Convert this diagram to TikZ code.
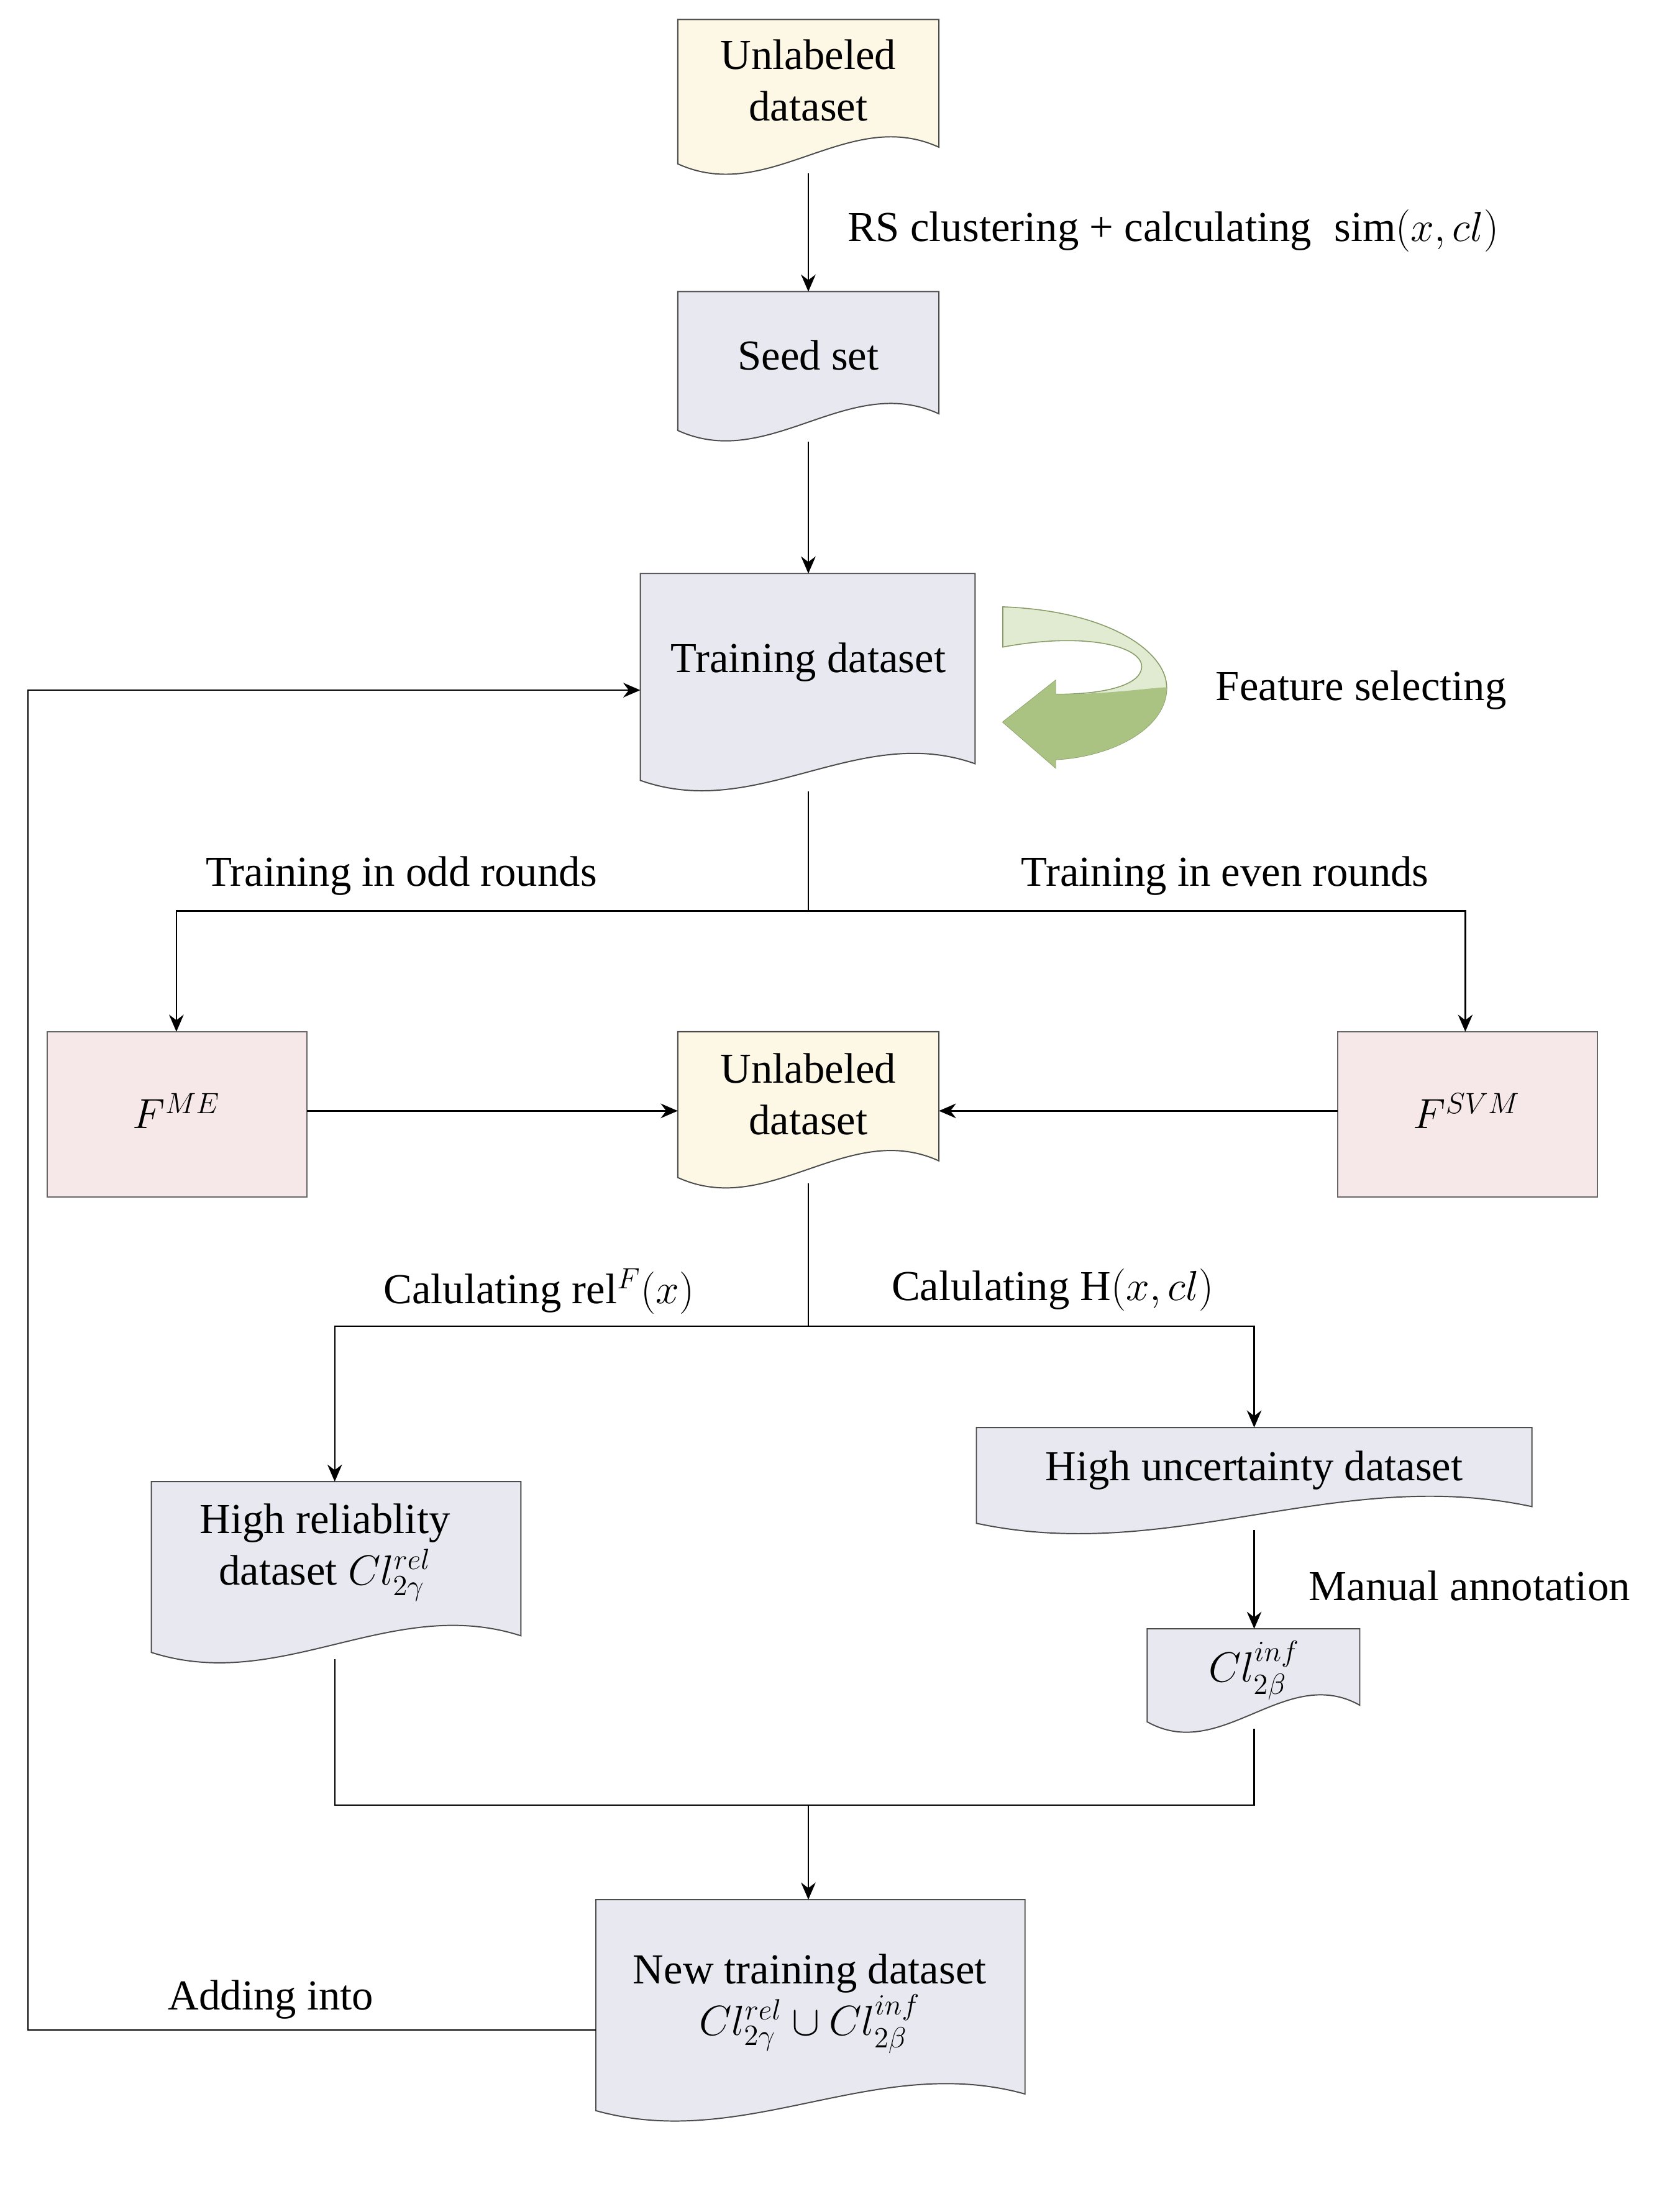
\documentclass[tikz,border=0pt]{standalone}
\usepackage{fontspec}
\setmainfont{Liberation Serif}
\usepackage{amsmath}
\usetikzlibrary{arrows.meta}
\definecolor{docyellow}{RGB}{253,248,230}
\definecolor{docgray}{RGB}{232,232,240}
\definecolor{boxpink}{RGB}{246,232,232}
\definecolor{leafgreen}{RGB}{170,195,130}
\definecolor{leaflight}{RGB}{225,235,210}
% wavy document: fill, x1, ytop, x2, ybottom
\newcommand{\docpath}[5]{\draw[fill=#1,draw=black!70,line width=0.5pt] (#2,#5) -- (#2,#3) -- (#4,#3) -- (#4,#5-12)
  .. controls (#2*0.35+#4*0.65,#5-42) and (#2*0.65+#4*0.35,#5+30) .. (#2,#5) -- cycle;}
\tikzset{lbl/.style={font=\fontsize{17.5}{21}\selectfont,align=center},
  arr/.style={-{Stealth[length=7pt,width=6pt]},line width=0.6pt},
  ln/.style={line width=0.6pt}}
\begin{document}
\begin{tikzpicture}[x=0.02cm,y=-0.02cm]
\useasboundingbox (0,0) rectangle (1200,1593);
% shapes
\docpath{docyellow}{488}{14}{676}{118}
\docpath{docgray}{488}{210}{676}{310}
\docpath{docgray}{461}{413}{702}{562}
\docpath{docyellow}{488}{743}{676}{848}
\docpath{docgray}{109}{1067}{375}{1190}
\docpath{docgray}{703}{1028}{1103}{1097}
\docpath{docgray}{826}{1173}{979}{1240}
\docpath{docgray}{429}{1368}{738}{1520}
\draw[fill=boxpink,draw=black!60] (34,743) rectangle (221,862);
\draw[fill=boxpink,draw=black!60] (963,743) rectangle (1150,862);
% text nodes
\node[lbl] (top) at (582,58) {Unlabeled\\dataset};
\node[lbl] (seed) at (582,256) {Seed set};
\node[lbl] (train) at (582,477) {Training dataset};
\node[lbl] (fme) at (127,800) {$F^{ME}$};
\node[lbl] (mid) at (582,788) {Unlabeled\\dataset};
\node[lbl] (fsvm) at (1056,800) {$F^{SVM}$};
\node[lbl] (rel) at (234,1118) {High reliablity\\dataset $Cl^{rel}_{2\gamma}$};
\node[lbl] (unc) at (903,1059) {High uncertainty dataset};
\node[lbl] (inf) at (903,1203) {$Cl^{inf}_{2\beta}$};
\node[lbl] (new) at (583,1443) {New training dataset\\$Cl^{rel}_{2\gamma}\cup Cl^{inf}_{2\beta}$};
% connector coordinates
\coordinate (topB) at (582,125); \coordinate (seedT) at (582,210);
\coordinate (seedB) at (582,318); \coordinate (trainT) at (582,413);
\coordinate (trainB) at (582,570); \coordinate (split) at (582,656);
\coordinate (fmeT) at (127,743); \coordinate (fsvmT) at (1055,743);
\coordinate (fmeR) at (221,800); \coordinate (midL) at (488,800);
\coordinate (fsvmL) at (963,800); \coordinate (midR) at (676,800);
\coordinate (midB) at (582,852); \coordinate (split2) at (582,955);
\coordinate (relT) at (241,1067); \coordinate (uncT) at (903,1028);
\coordinate (uncB) at (903,1102); \coordinate (infT) at (903,1173);
\coordinate (relB) at (241,1195); \coordinate (infB) at (903,1245);
\coordinate (join) at (582,1300); \coordinate (newT) at (582,1368);
\coordinate (newL) at (429,1462); \coordinate (trainL) at (461,497);
% connectors
\draw[arr] (topB) -- (seedT);
\draw[arr] (seedB) -- (trainT);
\draw[ln] (trainB) -- (split);
\draw[arr] (split) -| (fmeT);
\draw[arr] (split) -| (fsvmT);
\draw[arr] (fmeR) -- (midL);
\draw[arr] (fsvmL) -- (midR);
\draw[ln] (midB) -- (split2);
\draw[arr] (split2) -| (relT);
\draw[arr] (split2) -| (uncT);
\draw[arr] (uncB) -- (infT);
\draw[ln] (relB) |- (join) -| (infB);
\draw[arr] (join) -- (newT);
\draw[arr] (newL) -- (20,1462) |- (trainL);
% feature selecting arrow
\fill[leaflight,draw=leafgreen!80!black,line width=0.4pt] (722,437) .. controls (800,440) and (840,470) .. (840,495)
  .. controls (840,525) and (800,545) .. (760,547) -- (760,553) -- (722,520) -- (760,490) -- (760,500)
  .. controls (800,500) and (822,492) .. (822,480) .. controls (822,465) and (780,455) .. (722,466) -- cycle;
\fill[leafgreen] (840,495) .. controls (840,525) and (800,545) .. (760,547) -- (760,553) -- (722,520) -- (760,490) -- (760,500)
  .. controls (800,500) and (830,495) .. (840,495);
% labels
\node[lbl,anchor=west] (rs) at (604,166) {RS clustering + calculating \;$\mathrm{sim}(x,cl)$};
\node[lbl] (fs) at (980,497) {Feature selecting};
\node[lbl] (odd) at (289,631) {Training in odd rounds};
\node[lbl] (even) at (882,631) {Training in even rounds};
\node[lbl] (crel) at (388,930) {Calulating rel$^F(x)$};
\node[lbl] (ch) at (758,929) {Calulating $\mathrm{H}(x,cl)$};
\node[lbl] (man) at (1058,1142) {Manual annotation};
\node[lbl] (add) at (195,1440) {Adding into};
\end{tikzpicture}
\end{document}
